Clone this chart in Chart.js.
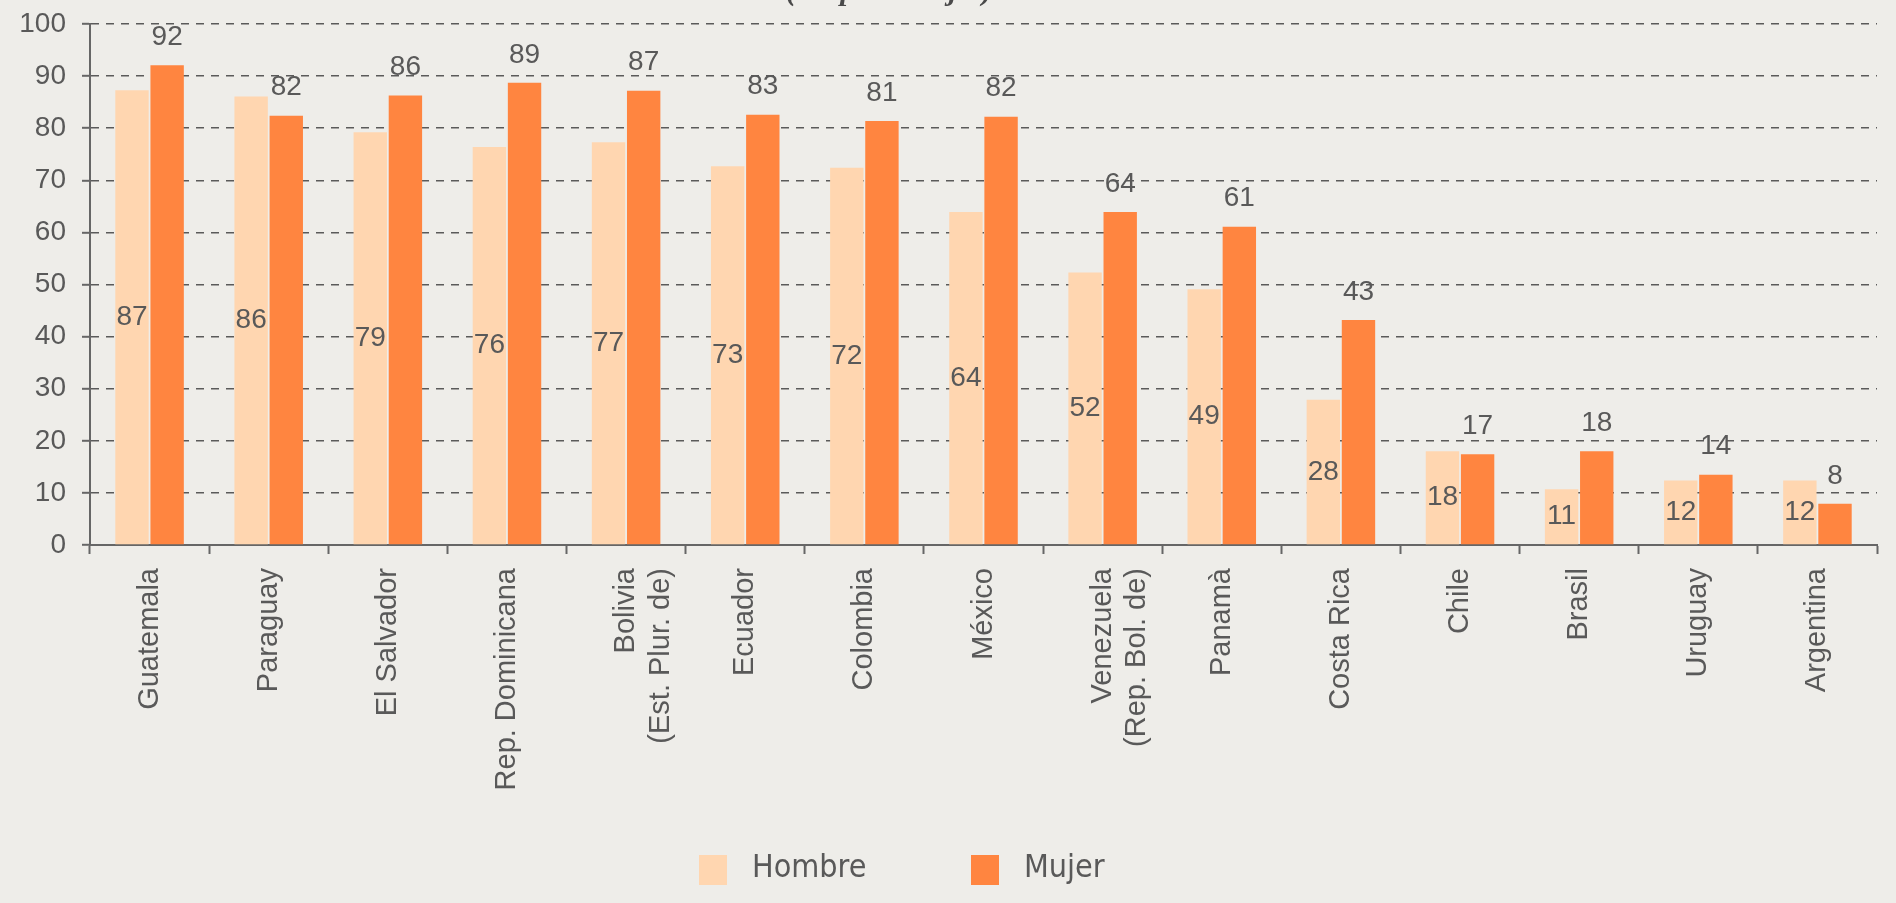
<!DOCTYPE html>
<html lang="es">
<head>
<meta charset="utf-8">
<title>Hombre / Mujer</title>
<script src="https://cdn.jsdelivr.net/npm/chart.js@4/dist/chart.umd.min.js"></script>
<style>
  html, body { margin: 0; padding: 0; background: #eeede9; }
  #wrap { width: 1896px; height: 903px; position: relative; }
</style>
</head>
<body>
<div id="wrap"><canvas id="grafico" width="1896" height="903"></canvas></div>
<script>
// datos
var paises = [
  "Guatemala", "Paraguay", "El Salvador", "Rep. Dominicana",
  ["Bolivia", "(Est. Plur. de)"], "Ecuador", "Colombia", "México",
  ["Venezuela", "(Rep. Bol. de)"], "Panamà", "Costa Rica", "Chile",
  "Brasil", "Uruguay", "Argentina"
];
var hombre = [87.3, 86.1, 79.2, 76.4, 77.3, 72.7, 72.4, 63.9, 52.3, 49.1, 27.9, 18.0, 10.7, 12.4, 12.4];
var mujer = [92.1, 82.4, 86.3, 88.7, 87.2, 82.6, 81.4, 82.2, 63.9, 61.1, 43.2, 17.4, 18.0, 13.5, 7.9];
var nombresSeries = ["Hombre", "Mujer"];
var coloresSeries = ["#ffd6b0", "#ff8540"];
var ticksY = [0, 10, 20, 30, 40, 50, 60, 70, 80, 90, 100];
var subtitulo = "(En porcentajes)";

var gris = "#595959";
var fuente = "'Liberation Sans', Arial, sans-serif";

// etiquetas de valores: hombre dentro de la barra, mujer encima
const etiquetasPlugin = {
  id: "etiquetas",
  afterDatasetsDraw(chart) {
    const ctx = chart.ctx;
    ctx.save();
    ctx.font = "28px " + fuente;
    ctx.fillStyle = gris;
    ctx.textAlign = "center";
    ctx.textBaseline = "middle";
    chart.data.datasets.forEach((ds, i) => {
      const meta = chart.getDatasetMeta(i);
      meta.data.forEach((bar, j) => {
        const txt = Math.round(ds.data[j]);
        if (i == 0) {
          ctx.fillText(txt, bar.x, (bar.y + bar.base) / 2);
        } else {
          ctx.fillText(txt, bar.x, bar.y - 28);
        }
      });
    });
    ctx.restore();
  }
};

// subtitulo cortado arriba y leyenda abajo
const extrasPlugin = {
  id: "extras",
  afterDraw(chart) {
    const ctx = chart.ctx;
    ctx.save();
    ctx.font = "italic bold 30px 'Liberation Serif', serif";
    ctx.fillStyle = "#4a4a4a";
    ctx.textAlign = "center";
    ctx.textBaseline = "alphabetic";
    ctx.fillText(subtitulo, 889, 0);

    var xs = [699, 971];
    ctx.font = "32px 'DejaVu Sans Condensed', 'DejaVu Sans', sans-serif";
    ctx.textAlign = "left";
    ctx.textBaseline = "middle";
    for (var k = 0; k < nombresSeries.length; k++) {
      ctx.fillStyle = coloresSeries[k];
      ctx.fillRect(xs[k], 855, 28, 30);
      ctx.fillStyle = gris;
      ctx.fillText(nombresSeries[k], xs[k] + 53, 869);
    }
    ctx.restore();
  }
};

new Chart(document.getElementById("grafico"), {
  type: "bar",
  data: {
    labels: paises,
    datasets: [
      { label: nombresSeries[0], data: hombre, backgroundColor: coloresSeries[0],
        categoryPercentage: 0.59, barPercentage: 0.95 },
      { label: nombresSeries[1], data: mujer, backgroundColor: coloresSeries[1],
        categoryPercentage: 0.59, barPercentage: 0.95 }
    ]
  },
  options: {
    responsive: false,
    animation: false,
    layout: { padding: { top: 24, right: 19, left: 0, bottom: 0 } },
    plugins: {
      legend: { display: false },
      tooltip: { enabled: false },
      title: { display: false }
    },
    scales: {
      x: {
        afterFit: (s) => { s.height = 358; },
        grid: { drawOnChartArea: false, drawTicks: true, tickLength: 9, tickColor: "#666", tickWidth: 2 },
        border: { color: "#666", width: 2 },
        ticks: {
          color: gris, font: { family: fuente, size: 29 },
          maxRotation: 90, minRotation: 90, padding: 14, autoSkip: false
        }
      },
      y: {
        min: 0, max: 100,
        afterFit: (s) => { s.width = 90; s.paddingTop = 0; s.paddingBottom = 0; },
        afterBuildTicks: (s) => { s.ticks = ticksY.map((v) => ({ value: v })); },
        grid: { color: "#5a5a5a", lineWidth: 1.6, drawTicks: true, tickLength: 8, tickColor: "#666", tickWidth: 2 },
        border: { color: "#666", width: 2, dash: [8, 7] },
        ticks: { color: gris, font: { family: fuente, size: 28 }, padding: 16 }
      }
    }
  },
  plugins: [etiquetasPlugin, extrasPlugin]
});
</script>
</body>
</html>
